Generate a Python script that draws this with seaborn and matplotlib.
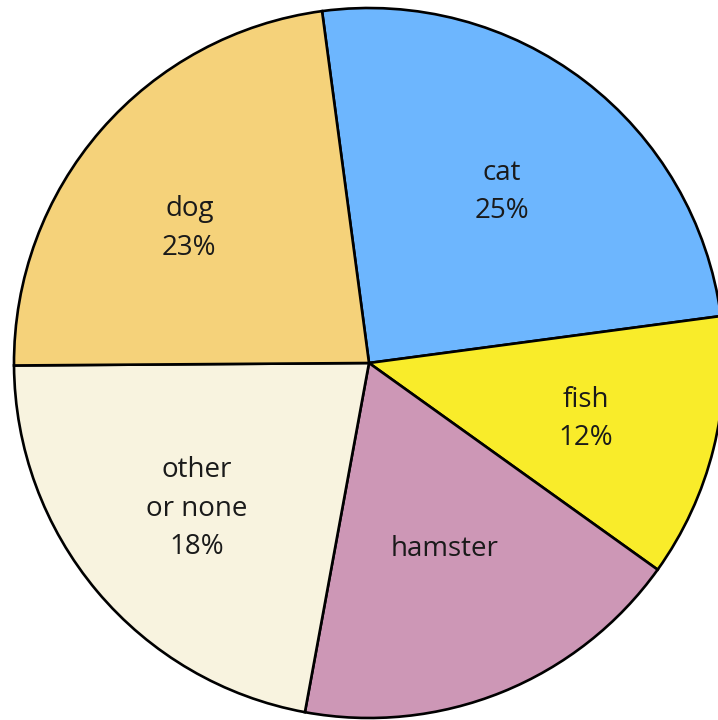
import numpy as np
import matplotlib
matplotlib.use('Agg')
import matplotlib.pyplot as plt
import seaborn as sns

# Datos del gráfico (tamaños tal como están dibujados)
pets = ['cat', 'fish', 'hamster', 'other\nor none', 'dog']
shares = [25, 12, 18, 22, 23]
share_text = ['25%', '12%', '', '18%', '23%']
colors = ['#6db6fe', '#f9ec2a', '#cd97b6', '#f8f3df', '#f5d27a']

sns.set_theme(style='white')
plt.rcParams['font.family'] = ['Open Sans', 'DejaVu Sans']

fig = plt.figure(figsize=(7.18, 7.2), dpi=100)
ax = fig.add_axes([0, 0, 1, 1])

wedges, _ = ax.pie(shares, colors=colors, startangle=97.6, counterclock=False,
                   wedgeprops={'edgecolor': 'black', 'linewidth': 1.9})

# Etiquetas dentro de cada sector (radio y desfase angular)
label_r = [0.61, 0.63, 0.565, 0.635, 0.632]
label_shift = [-0.4, -0.5, 0.0, 0.3, 4.2]
for w, name, pct, r, sh in zip(wedges, pets, share_text, label_r, label_shift):
    mid = np.deg2rad((w.theta1 + w.theta2) / 2 + sh)
    txt = name if pct == '' else name + '\n' + pct
    ax.text(r * np.cos(mid), r * np.sin(mid), txt, ha='center', va='center',
            fontsize=20, color='#1a1a1a', linespacing=1.5)

# Encuadre: centro en (369, 363) px, radio 355 px
R = 355.0
ax.set_xlim(-369 / R, (718 - 369) / R)
ax.set_ylim(-(720 - 363) / R, 363 / R)
ax.set_aspect('equal')
ax.axis('off')

plt.savefig('out.png', dpi=100)
